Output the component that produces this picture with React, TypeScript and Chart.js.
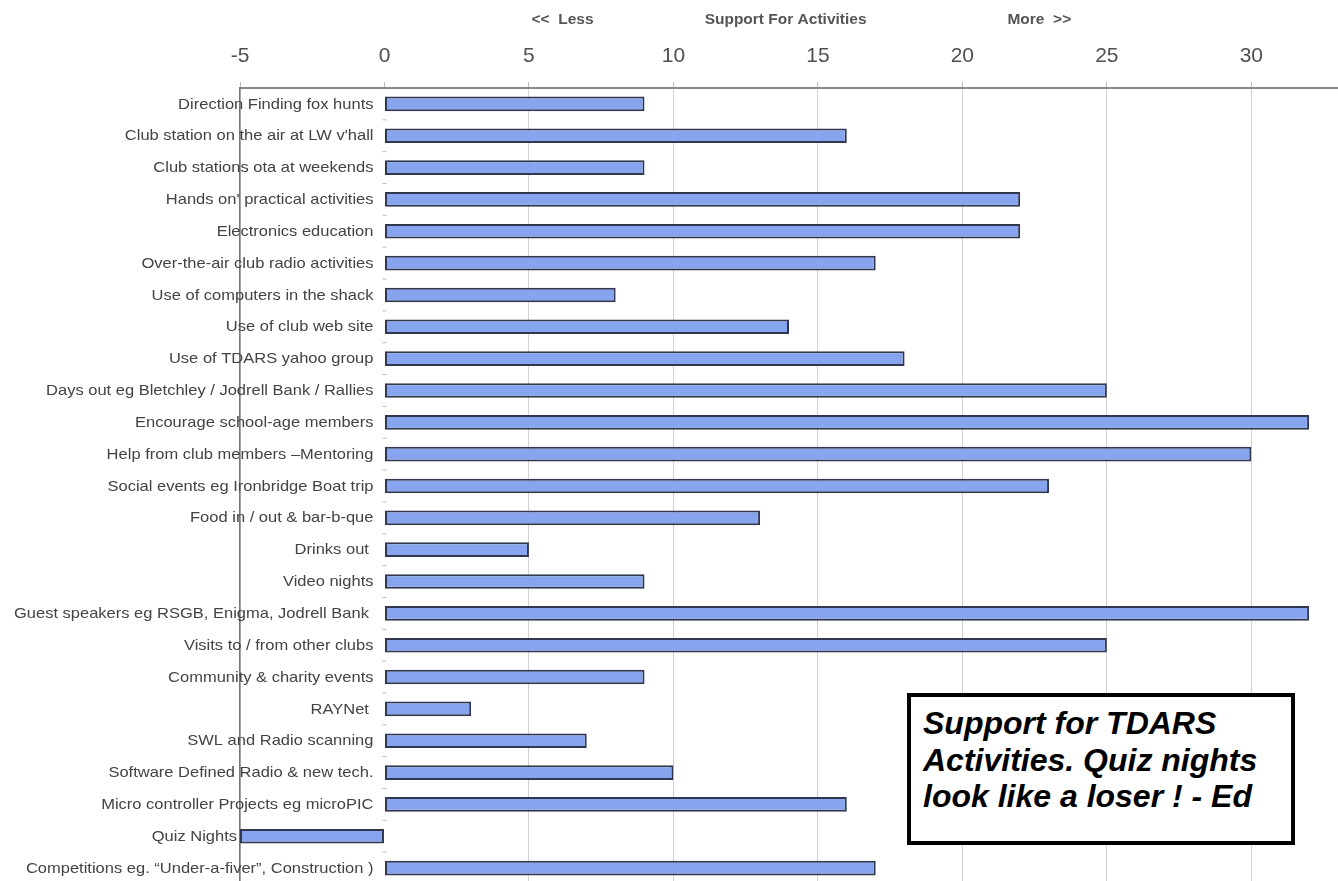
import React, { useEffect, useRef } from "react";
import { Chart, registerables } from "chart.js";

Chart.register(...registerables);

const categories: string[] = [
  "Direction Finding fox hunts",
  "Club station on the air at LW v'hall",
  "Club stations ota at weekends",
  "Hands on' practical activities",
  "Electronics education",
  "Over-the-air club radio activities",
  "Use of computers in the shack",
  "Use of club web site",
  "Use of TDARS yahoo group",
  "Days out eg Bletchley / Jodrell Bank / Rallies",
  "Encourage school-age members",
  "Help from club members \u2013Mentoring",
  "Social events eg Ironbridge Boat trip",
  "Food in / out & bar-b-que",
  "Drinks out ",
  "Video nights",
  "Guest speakers eg RSGB, Enigma, Jodrell Bank ",
  "Visits to / from other clubs",
  "Community & charity events",
  "RAYNet ",
  "SWL and Radio scanning",
  "Software Defined Radio & new tech.",
  "Micro controller Projects eg microPIC",
  "Quiz Nights",
  "Competitions eg. \u201cUnder-a-fiver\u201d, Construction )",
];

const supportValues: number[] = [
  9, 16, 9, 22, 22, 17, 8, 14, 18, 25, 32, 30, 23, 13, 5, 9, 32, 25, 9, 3, 7, 10, 16, -5, 17,
];

const axisMin = -5;
const axisMax = 33;
const tickStep = 5;

const headerLabels: string[] = ["<<  Less", "Support For Activities", "More  >>"];
const headerValues: number[] = [5.09, 11.08, 21.56];

const noteLines: string[] = [
  "Support for TDARS",
  "Activities. Quiz nights",
  "look like a loser ! - Ed",
];

const labelsPlugin = {
  id: "customLabels",
  afterDraw(chart: any) {
    const { ctx, scales } = chart;
    const x = scales.x;
    const y = scales.y;
    const x0 = x.getPixelForValue(0);
    ctx.save();
    ctx.font = "15px 'Liberation Sans', Arial, sans-serif";
    ctx.fillStyle = "#434343";
    ctx.textAlign = "right";
    ctx.textBaseline = "middle";
    categories.forEach((c, i) => {
      const v = supportValues[i];
      const right = v < 0 ? x.getPixelForValue(v) - 3 : x0 - 11;
      ctx.save();
      ctx.translate(right, y.getPixelForValue(i) + 0.5);
      ctx.scale(1.1, 1);
      ctx.fillText(c, 0, 0);
      ctx.restore();
    });
    ctx.strokeStyle = "#bbbbbb";
    ctx.lineWidth = 1;
    const half = (y.getPixelForValue(1) - y.getPixelForValue(0)) / 2;
    for (let i = 0; i < categories.length; i++) {
      const yy = y.getPixelForValue(i) + half;
      ctx.beginPath();
      ctx.moveTo(x0 - 2, yy);
      ctx.lineTo(x0 + 2, yy);
      ctx.stroke();
    }
    ctx.font = "bold 15.5px 'Liberation Sans', Arial, sans-serif";
    ctx.fillStyle = "#555555";
    ctx.textAlign = "left";
    headerLabels.forEach((h, i) => {
      ctx.fillText(h, x.getPixelForValue(headerValues[i]), 20);
    });
    ctx.restore();
  },
};

export default function App() {
  const canvasRef = useRef<HTMLCanvasElement | null>(null);

  useEffect(() => {
    if (!canvasRef.current) return;
    const chart = new Chart(canvasRef.current, {
      type: "bar",
      data: {
        labels: categories,
        datasets: [
          {
            data: supportValues,
            backgroundColor: "#86a5ee",
            borderColor: "#30374f",
            borderWidth: 2,
            borderSkipped: false,
            barPercentage: 0.46,
            categoryPercentage: 1,
          },
        ],
      },
      options: {
        indexAxis: "y",
        animation: false,
        responsive: true,
        maintainAspectRatio: false,
        layout: { padding: 0 },
        plugins: {
          legend: { display: false },
          tooltip: { enabled: false },
        },
        scales: {
          x: {
            position: "top",
            min: axisMin,
            max: axisMax,
            afterFit: (scale: any) => {
              scale.height = 88;
            },
            ticks: {
              stepSize: tickStep,
              includeBounds: false,
              color: "#505050",
              font: { size: 21, family: "'Liberation Sans', Arial, sans-serif" },
              padding: 13,
            },
            grid: {
              color: (ctx: any) => (ctx.tick && ctx.tick.value === 0 ? "rgba(0,0,0,0)" : "#d2d2d2"),
              tickLength: 6,
              tickColor: "#bdbdbd",
            },
            border: { color: "#8a8a8a", width: 2 },
          },
          y: {
            afterFit: (scale: any) => {
              scale.width = 240;
            },
            ticks: { display: false },
            grid: { display: false, drawTicks: false },
            border: { color: "#777777", width: 1.5 },
          },
        },
      },
      plugins: [labelsPlugin],
    });
    return () => chart.destroy();
  }, []);

  return (
    <div style={{ position: "absolute", left: 0, top: 0, width: 1338, height: 884, background: "#ffffff" }}>
      <canvas ref={canvasRef} />
      <div
        style={{
          position: "absolute",
          left: 907,
          top: 693,
          width: 380,
          height: 144,
          border: "4px solid #000",
          background: "#fff",
          boxSizing: "content-box",
          fontFamily: "'Liberation Sans', Arial, sans-serif",
          fontWeight: "bold",
          fontStyle: "italic",
          fontSize: 32,
          lineHeight: "36.5px",
          color: "#000",
          whiteSpace: "nowrap",
        }}
      >
        <div style={{ paddingLeft: 12, paddingTop: 8 }}>
          {noteLines.map((l, i) => (
            <div key={i}>{l}</div>
          ))}
        </div>
      </div>
    </div>
  );
}
